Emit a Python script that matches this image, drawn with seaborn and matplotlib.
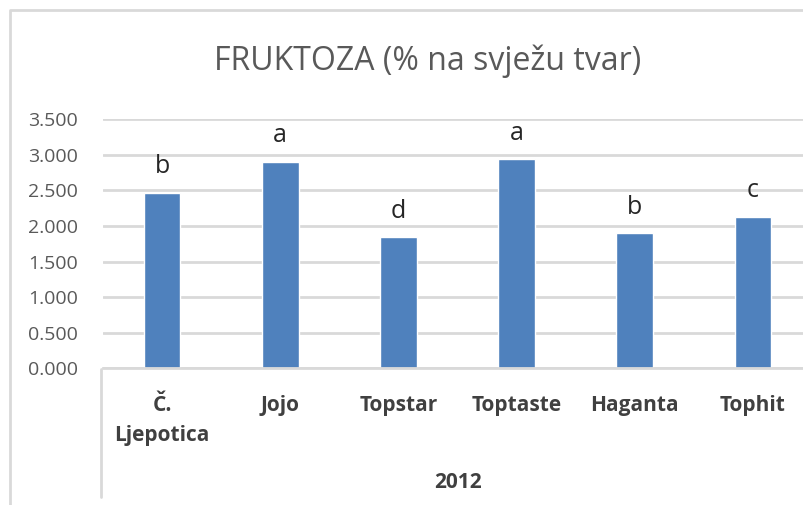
import matplotlib
matplotlib.use("Agg")
import matplotlib.pyplot as plt
import seaborn as sns
import pandas as pd
from matplotlib.lines import Line2D

# data
sorte = ["Č.\nLjepotica", "Jojo", "Topstar", "Toptaste", "Haganta", "Tophit"]
fruktoza = [2.46, 2.90, 1.84, 2.935, 1.895, 2.13]
slova = ["b", "a", "d", "a", "b", "c"]
godina = "2012"
y_ticks = [0.0, 0.5, 1.0, 1.5, 2.0, 2.5, 3.0, 3.5]

df = pd.DataFrame({"sorta": sorte, "fruktoza": fruktoza})

sns.set_theme(style="white")
plt.rcParams["font.family"] = ["Open Sans", "DejaVu Sans"]

W, H = 804, 505
fig = plt.figure(figsize=(W / 100, H / 100), dpi=100)
# plot area in pixel terms: x 103..812, y 119..368
ax = fig.add_axes([103 / W, (H - 368.3) / H, (812 - 103) / W, (368.3 - 119.3) / H])

sns.barplot(data=df, x="sorta", y="fruktoza", color="#4f81bd", saturation=1,
            width=0.31, ax=ax)

ax.set_ylim(0, 3.5)
ax.set_xlim(-0.5, len(sorte) - 0.5)
ax.set_yticks(y_ticks)
ax.set_yticklabels([f"{v:.3f}" for v in y_ticks], fontsize=14, color="#595959")
ax.yaxis.grid(True, color="#d9d9d9", linewidth=2)
ax.set_axisbelow(True)
for s in ["top", "right", "left"]:
    ax.spines[s].set_visible(False)
ax.spines["bottom"].set_color("#d9d9d9")
ax.spines["bottom"].set_linewidth(2)
ax.tick_params(axis="y", length=0, pad=18)
ax.tick_params(axis="x", length=0, pad=19)
ax.set_xticks(range(len(sorte)))
ax.set_xticklabels(sorte, fontsize=15, fontweight="bold", color="#404040",
                   linespacing=1.6)
ax.set_xlabel("")
ax.set_ylabel("")

# significance letters above bars
for i, (v, s) in enumerate(zip(fruktoza, slova)):
    ax.annotate(s, (i, v), xytext=(0, 19), textcoords="offset points",
                ha="center", va="center", fontsize=18, color="#262626")

fig.text(458 / W, 1 - 483 / H, godina, ha="center", va="center",
         fontsize=15, fontweight="bold", color="#404040")
fig.text(428 / W, 1 - 61 / H, "FRUKTOZA (% na svježu tvar)", ha="center",
         va="center", fontsize=23, color="#595959")

# category divider and chart border
fig.add_artist(Line2D([101.5 / W, 101.5 / W], [1 - 369 / H, 1 - 497 / H],
                      color="#d9d9d9", linewidth=2))
fig.add_artist(Line2D([10 / W, 10 / W, 1], [0, 1 - 10 / H, 1 - 10 / H],
                      color="#d9d9d9", linewidth=2))

fig.savefig("out.png", dpi=100)
